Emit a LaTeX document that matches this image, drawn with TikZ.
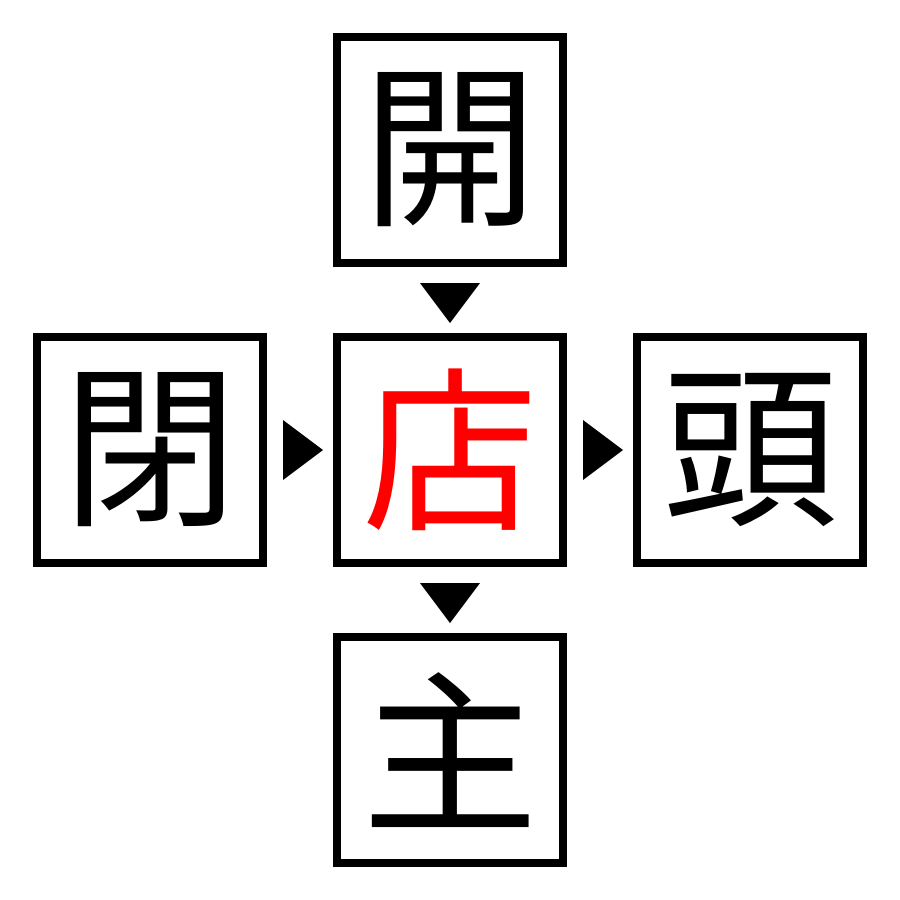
\documentclass[tikz,border=0pt]{standalone}
\usepackage{fontspec}
\newfontfamily\cjk{Noto Sans CJK JP}
\begin{document}
\begin{tikzpicture}[x=1cm,y=-1cm,
  kbox/.style={draw,line width=0.08cm,minimum size=2.26cm,inner sep=0pt,font=\cjk\fontsize{50}{50}\selectfont},
  tri/.style={fill=black}]
\useasboundingbox (0,0) rectangle (9,9);
\node[kbox] (top) at (4.5,1.5) {開};
\node[kbox,text=red] (mid) at (4.5,4.5) {店};
\node[kbox] (left) at (1.5,4.5) {閉};
\node[kbox] (right) at (7.5,4.5) {頭};
\node[kbox] (bot) at (4.5,7.5) {主};
\fill[tri] (4.2,2.83) -- (4.8,2.83) -- (4.5,3.23) -- cycle;
\fill[tri] (4.2,5.83) -- (4.8,5.83) -- (4.5,6.23) -- cycle;
\fill[tri] (2.83,4.2) -- (2.83,4.8) -- (3.23,4.5) -- cycle;
\fill[tri] (5.83,4.2) -- (5.83,4.8) -- (6.23,4.5) -- cycle;
\end{tikzpicture}
\end{document}
